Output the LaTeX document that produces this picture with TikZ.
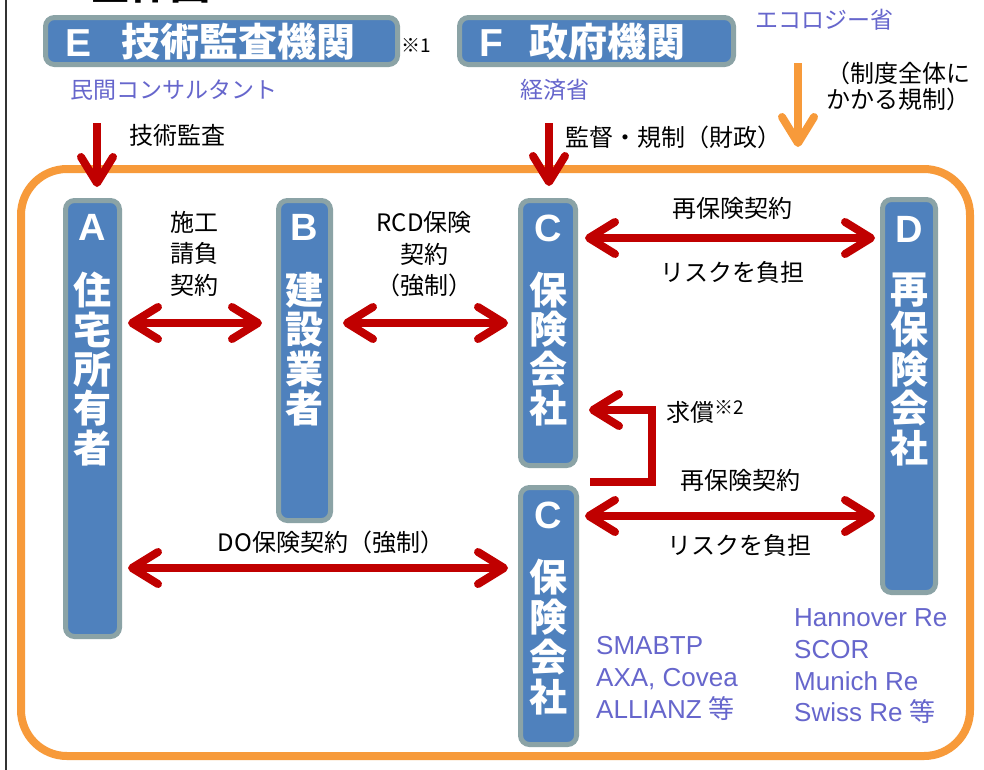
\documentclass[tikz,border=0pt]{standalone}
\usepackage{fontspec}
\setmainfont{Liberation Sans}
\newfontfamily\jp{Noto Sans CJK JP}
\usetikzlibrary{arrows.meta,calc}
\definecolor{boxfill}{HTML}{4F81BD}
\definecolor{boxedge}{HTML}{8BA3A6}
\definecolor{orng}{HTML}{F79A3A}
\definecolor{arrred}{HTML}{C00000}
\definecolor{purp}{HTML}{6666CC}
\tikzset{
  ent/.style={draw=boxedge, fill=boxfill, line width=5pt, rounded corners=9pt, inner sep=0pt},
  bigtxt/.style={text=white, font=\fontsize{39}{39}\selectfont\bfseries, inner sep=0pt, anchor=west},
  vch/.style={text=white, font=\jp\fontsize{38}{38}\selectfont\bfseries, inner sep=0pt},
  vlet/.style={text=white, font=\fontsize{38}{38}\selectfont\bfseries, inner sep=0pt},
  lbl/.style={font=\jp\fontsize{24}{31.5}\selectfont, inner sep=0pt, align=center},
  purptxt/.style={text=purp, font=\jp\fontsize{23}{26}\selectfont, inner sep=0pt, anchor=west},
  plist/.style={text=purp, font=\fontsize{26}{31.7}\selectfont, inner sep=0pt, align=left, anchor=west},
  barb/.tip={Straight Barb[length=26pt,width=32pt,round]},
  rarr/.style={draw=arrred, line width=8pt, barb-barb},
  rarrone/.style={draw=arrred, line width=8pt, -barb},
  oarr/.style={draw=orng, line width=8pt, -barb},
}
\begin{document}
\begin{tikzpicture}[x=1pt,y=-1pt]
\useasboundingbox (0,0) rectangle (984,769);
\fill[white] (0,0) rectangle (984,769);
% cut title
\node[anchor=base west, font=\jp\fontsize{40}{40}\selectfont\bfseries, inner sep=0pt] (title) at (90,-1) {全体図};
% left rule
\draw[line width=2pt, black!80] (5.5,-5) -- (5.5,775);
% frame
\node[draw=orng, line width=8pt, rounded corners=46pt, minimum width=949pt, minimum height=587pt, inner sep=0pt] (frame) at (495.5,462.5) {};
% top boxes
\node[ent, minimum width=352pt, minimum height=47pt] (E) at (221.5,41) {};
\node[bigtxt] (Et) at (65,42) {E\hspace{30pt}{\jp 技術監査機関}};
\node[anchor=west, font=\jp\fontsize{19}{19}\selectfont, inner sep=0pt] (n1) at (401,45) {※1};
\node[ent, minimum width=274pt, minimum height=47pt] (F) at (596.5,41) {};
\node[bigtxt] (Ft) at (479,42) {F\hspace{26pt}{\jp 政府機関}};
\node[purptxt] (cons) at (70,90) {民間コンサルタント};
\node[purptxt] (meti) at (520,90) {経済省};
\node[purptxt] (eco) at (755,20) {エコロジー省};
\node[anchor=west, font=\jp\fontsize{24}{26}\selectfont, inner sep=0pt, align=left] (seido) at (826,86.5) {（制度全体に\\かかる規制）};
% entity boxes
\node[ent, minimum width=54pt, minimum height=436pt] (A) at (92.5,418.5) {};
\node[ent, minimum width=52pt, minimum height=320pt] (B) at (304.5,360.5) {};
\node[ent, minimum width=55pt, minimum height=265pt] (C1) at (548,333) {};
\node[ent, minimum width=56pt, minimum height=257pt] (C2) at (548.5,616) {};
\node[ent, minimum width=53pt, minimum height=393pt] (D) at (909,396) {};
% box texts
\node[vlet] (Al) at (92.5,227) {A};
\foreach \c [count=\i] in {住,宅,所,有,者} \node[vch] (A\i) at (92.5,{290+39.5*(\i-1)}) {\c};
\node[vlet] (Bl) at (304.5,227) {B};
\foreach \c [count=\i] in {建,設,業,者} \node[vch] (B\i) at (304.5,{290+39.5*(\i-1)}) {\c};
\node[vlet] (C1l) at (548,228) {C};
\foreach \c [count=\i] in {保,険,会,社} \node[vch] (Ca\i) at (548,{290+39.5*(\i-1)}) {\c};
\node[vlet] (C2l) at (548.5,515) {C};
\foreach \c [count=\i] in {保,険,会,社} \node[vch] (Cb\i) at (548.5,{577+40*(\i-1)}) {\c};
\node[vlet] (Dl) at (909,229) {D};
\foreach \c [count=\i] in {再,保,険,会,社} \node[vch] (D\i) at (909,{290+39.5*(\i-1)}) {\c};
% vertical arrows
\coordinate (ea) at (97,123);
\draw[rarrone] (ea) -- ($(ea |- A.north)+(0,-11)$);
\node[lbl, anchor=west] (gk) at (129,135) {技術監査};
\coordinate (fc) at (549,123);
\draw[rarrone] (fc) -- ($(fc |- C1.north)+(0,-12)$);
\node[lbl, anchor=west] (kk) at (565,137) {監督・規制（財政）};
\coordinate (oa) at (798,63);
\draw[oarr] (oa) -- ($(oa |- frame.north)+(0,-18)$);
% horizontal arrows
\coordinate (y323) at (0,323);
\draw[rarr] ($(A.east |- y323)+(6,0)$) -- ($(B.west |- y323)+(-14,0)$);
\node[lbl] (sk) at (194,253.5) {施工\\請負\\契約};
\draw[rarr] ($(B.east |- y323)+(10,0)$) -- ($(C1.west |- y323)+(-10,0)$);
\node[lbl] (rcd) at (424,254.5) {RCD保険\\契約\\（強制）};
\coordinate (y238) at (0,238);
\draw[rarr] ($(C1.east |- y238)+(7,0)$) -- ($(D.west |- y238)+(-5,0)$);
\node[lbl] (rh1) at (732,208) {再保険契約};
\node[lbl] (rf1) at (732,272) {リスクを負担};
\coordinate (y516) at (0,516);
\draw[rarr] ($(C2.east |- y516)+(6,0)$) -- ($(D.west |- y516)+(-5,0)$);
\node[lbl] (rh2) at (740,480) {再保険契約};
\node[lbl] (rf2) at (739,545) {リスクを負担};
\coordinate (y568) at (0,568);
\draw[rarr] ($(A.east |- y568)+(6,0)$) -- ($(C2.west |- y568)+(-10,0)$);
\node[lbl] (do) at (331,542) {DO保険契約（強制）};
% kyusho
\coordinate (qs) at (590,482);
\coordinate (qc) at (652,482);
\coordinate (y410) at (0,410);
\draw[rarrone] (qs) -- (qc) |- ($(C1.east |- y410)+(11,0)$);
\node[lbl, anchor=west] (ks) at (666,412) {求償\raisebox{7pt}{\fontsize{19}{19}\selectfont ※2}};
% company lists
\node[plist] (ins) at (596,678.5) {SMABTP\\AXA, Covea\\ALLIANZ {\jp 等}};
\node[plist] (reins) at (794,666.5) {Hannover Re\\SCOR\\Munich Re\\Swiss Re {\jp 等}};
\end{tikzpicture}
\end{document}
